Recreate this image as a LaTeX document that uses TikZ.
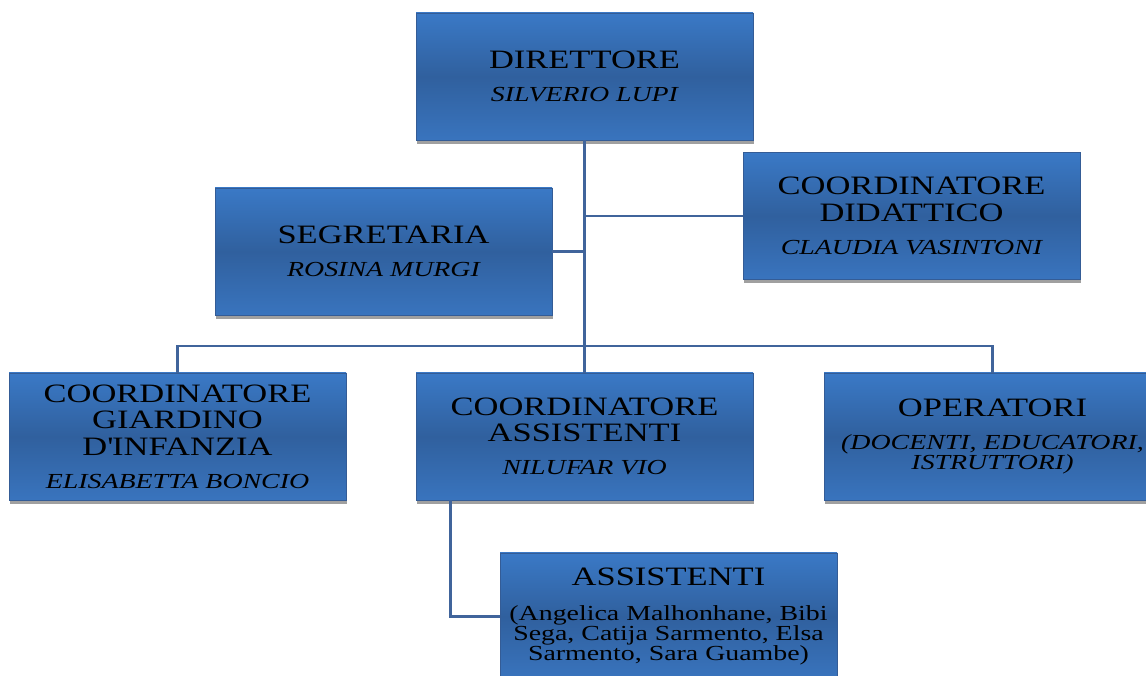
\documentclass[tikz,border=0pt]{standalone}
\usepackage{fontspec}
\setmainfont{Liberation Serif}[FakeStretch=1.3]
\usetikzlibrary{calc}
\usetikzlibrary{shadows}
\definecolor{bx1}{RGB}{58,121,198}
\definecolor{bx2}{RGB}{48,96,158}
\definecolor{bx3}{RGB}{57,116,190}
\definecolor{bd1}{RGB}{52,92,150}
\definecolor{sh1}{RGB}{160,160,160}
\definecolor{l1}{RGB}{64,100,155}
\newcommand{\ttl}{\fontsize{15.1pt}{15.1pt}\selectfont}
\newcommand{\nmf}{\fontsize{12.2pt}{11.4pt}\selectfont}

\begin{document}
\begin{tikzpicture}[
    l/.style={
        line width=1.6pt,
        color=l1
    },
    e/.style={
        minimum width=6.74cm, minimum height=2.54cm, inner sep=0pt,
        top color=bx1, bottom color=bx3, middle color=bx2,
        draw=bd1, line width=0.3pt,
        align=center, font=\ttl,
        drop shadow={shadow xshift=0.02cm, shadow yshift=-0.08cm, fill=sh1, opacity=1}
    },
    es/.style={e, font=\nmf}
]

    \useasboundingbox (0,0) rectangle (22.92,13.52);
    \clip (0,0) rectangle (22.92,13.52);

    \node [e]  (dir)  at (11.69, 11.99) {DIRETTORE\\[3.7pt]{\nmf\itshape SILVERIO LUPI}};
    \node [e]  (seg)  at ( 7.67,  8.49) {SEGRETARIA\\[3.7pt]{\nmf\itshape ROSINA MURGI}};
    \node [e]  (did)  at (18.23,  9.20) {COORDINATORE\\DIDATTICO\\[3.7pt]{\nmf\itshape CLAUDIA VASINTONI}};
    \node [e]  (giar) at ( 3.55,  4.79) {COORDINATORE\\GIARDINO\\D\textquotesingle INFANZIA\\[3.7pt]{\nmf\itshape ELISABETTA BONCIO}};
    \node [e]  (cass) at (11.69,  4.79) {COORDINATORE\\ASSISTENTI\\[3.7pt]{\nmf\itshape NILUFAR VIO}};
    \node [es] (op)   at (19.85,  4.79) {{\ttl OPERATORI}\\[7.4pt]\textit{(DOCENTI, EDUCATORI,}\\\textit{ISTRUTTORI)}};
    \node [es] (ass)  at (13.37,  1.19) {{\ttl ASSISTENTI}\\[8pt](Angelica Malhonhane, Bibi\\Sega, Catija Sarmento, Elsa\\Sarmento, Sara Guambe)};

    \coordinate (bus) at (11.69, 6.6);

    \draw [l] (dir.south) -- (cass.north);
    \draw [l] (did.west) -- (did.west -| dir.south);
    \draw [l] (seg.east) -- (seg.east -| dir.south);
    \draw [l] (giar.north) |- (bus) -| (op.north);
    \draw [l] ($(cass.south west)+(0.7,0)$) |- (ass.west);

\end{tikzpicture}
\end{document}
